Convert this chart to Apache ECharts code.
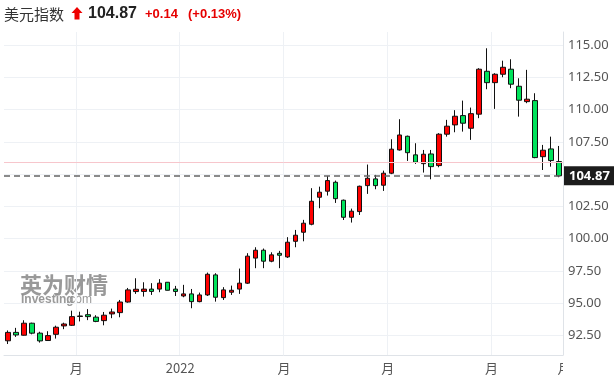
<!DOCTYPE html>
<html>
<head>
<meta charset="utf-8">
<script src="https://cdn.jsdelivr.net/npm/echarts@6/dist/echarts.min.js"></script>
<style>
html,body{margin:0;padding:0;background:#fff;}
#c{width:614px;height:382px;}
</style>
</head>
<body>
<div id="c"></div>
<script>
// ---- data (weekly candles) ----
const opens  = [92.10,92.75,92.53,93.46,92.69,92.12,92.60,93.25,93.30,93.98,94.12,93.93,93.66,94.18,94.28,95.10,95.91,95.92,96.10,96.10,96.63,96.10,95.57,95.73,95.13,95.65,97.20,95.44,95.86,96.10,96.56,98.50,99.11,98.26,98.87,98.59,99.80,100.50,101.12,103.21,103.68,104.37,102.98,101.66,102.10,104.11,104.63,104.14,105.07,106.87,107.93,106.49,105.81,106.56,105.66,108.09,108.81,109.53,108.55,109.64,112.96,112.08,112.73,113.12,111.80,110.61,110.69,106.35,106.95,105.97];
const closes = [92.75,92.55,93.46,92.69,92.09,92.50,93.15,93.40,93.97,94.02,93.97,93.60,94.08,94.33,95.10,96.04,96.09,96.10,95.92,96.56,96.01,95.92,95.73,95.13,95.65,97.25,95.47,96.04,96.01,96.56,98.65,99.11,98.26,98.75,98.72,99.73,100.27,101.20,102.90,103.60,104.50,103.10,101.66,102.13,104.06,104.68,104.11,105.07,106.93,108.03,106.66,105.92,106.54,105.58,108.09,108.71,109.48,108.94,109.68,113.12,112.08,112.73,113.27,111.96,110.72,110.80,106.28,106.85,106.05,104.87];
const lows   = [91.85,92.40,92.50,92.60,91.96,92.10,92.27,93.00,93.25,93.60,93.70,93.54,93.30,93.85,93.92,95.05,95.73,95.52,95.65,95.86,96.00,95.57,95.47,94.62,95.08,95.57,95.13,95.26,95.65,95.73,96.50,97.72,97.72,98.18,97.72,98.51,99.34,99.80,101.04,102.36,103.34,102.77,101.45,101.25,101.84,103.47,103.83,103.70,105.00,106.82,106.02,105.79,105.12,104.60,105.53,107.90,108.24,108.29,107.65,109.33,111.57,110.05,112.50,111.65,109.45,110.49,106.23,105.32,105.58,104.76];
const highs  = [92.90,93.10,93.69,93.50,92.80,92.84,93.27,93.50,94.43,94.35,94.55,94.08,94.33,94.59,95.26,96.19,96.94,96.63,96.56,96.87,96.65,96.35,96.43,96.11,95.83,97.38,97.33,96.25,96.37,97.69,98.88,99.34,99.24,98.95,99.06,100.12,100.68,101.46,103.91,104.03,104.86,104.50,103.03,102.33,104.11,105.74,104.94,105.27,107.70,109.25,107.98,107.39,106.87,106.87,108.17,109.20,109.95,110.69,110.15,113.20,114.74,112.81,113.78,113.89,112.42,113.07,111.26,107.26,107.90,107.18];
const categories = Array.from({length: opens.length}, (_, i) => 'W' + (i + 1));
const xTickLabels = {9: '月', 22: '2022', 35: '月', 48: '月', 61: '月', 69: '月'};
const yTickValues = [92.5, 95, 97.5, 100, 102.5, 105, 107.5, 110, 112.5, 115];
const lastClose = 104.87;
const refLevel = 105.93;
const header = {name: '美元指数', price: '104.87', change: '+0.14', pct: '(+0.13%)'};

const candleData = opens.map((o, i) => [o, closes[i], lows[i], highs[i]]);
const gridLines = [9, 22, 35, 48, 61];
const lastIdx = opens.length - 1;

const chart = echarts.init(document.getElementById('c'), null, {renderer: 'canvas'});
chart.setOption({
  animation: false,
  backgroundColor: '#fff',
  grid: {left: 4, right: 51, top: 32, bottom: 27},
  xAxis: {
    type: 'category',
    data: categories,
    boundaryGap: true,
    axisLine: {show: true, lineStyle: {color: '#dfe3e8'}},
    axisTick: {show: false},
    splitLine: {show: true, interval: (i) => gridLines.includes(i), lineStyle: {color: '#eef1f5', width: 1}},
    axisLabel: {
      interval: (i) => xTickLabels[i] !== undefined,
      formatter: (v, i) => i === lastIdx ? '{e|' + xTickLabels[i] + '}' : (xTickLabels[i] || ''),
      color: '#555', fontSize: 13, fontFamily: 'Noto Sans CJK SC', margin: 7,
      padding: [0, 7, 0, 0],
      rich: {e: {color: '#555', fontSize: 13, fontFamily: 'Noto Sans CJK SC', padding: [0, 0, 0, 17]}}
    }
  },
  yAxis: {
    type: 'value',
    position: 'right',
    min: 91, max: 116,
    scale: true,
    axisLine: {show: true, lineStyle: {color: '#dfe3e8'}},
    axisTick: {show: false, customValues: yTickValues},
    splitLine: {show: true, lineStyle: {color: '#eef1f5', width: 1}},
    axisLabel: {
      customValues: yTickValues,
      formatter: (v) => v.toFixed(2),
      color: '#555', fontSize: 13, fontFamily: 'Noto Sans', margin: 5
    }
  },
  series: [{
    type: 'candlestick',
    data: candleData,
    barWidth: 5,
    itemStyle: {color: '#ff0000', color0: '#00e35b', borderColor: '#111', borderColor0: '#111', borderWidth: 1},
    markLine: {
      silent: true,
      symbol: ['none', 'none'],
      animation: false,
      data: [
        {yAxis: lastClose, lineStyle: {color: '#666', type: [6, 4], width: 1.5},
         label: {show: true, position: 'end', distance: 1, formatter: lastClose.toFixed(2), color: '#fff', backgroundColor: '#1c1c1c', padding: [3, 5, 3, 5], fontSize: 13, fontFamily: 'Noto Sans', fontWeight: 'bold'}},
        {yAxis: refLevel, lineStyle: {color: '#f7c6cc', type: 'solid', width: 1}, label: {show: false}}
      ]
    }
  }],
  graphic: [
    {type: 'rect', shape: {x: 563, y: 357, width: 51, height: 25}, style: {fill: '#fff'}, z: 100},
    {type: 'text', x: 4, y: 14, style: {text: header.name, font: '15px "Noto Sans CJK SC"', fill: '#333', verticalAlign: 'middle'}},
    {type: 'polygon', shape: {points: [[77, 7], [82.5, 13], [79.5, 13], [79.5, 19.5], [74.5, 19.5], [74.5, 13], [71.5, 13]]}, style: {fill: '#ee0000'}},
    {type: 'text', x: 88, y: 14, style: {text: header.price, font: 'bold 16px "Liberation Sans"', fill: '#222', verticalAlign: 'middle'}},
    {type: 'text', x: 145, y: 14, style: {text: header.change, font: 'bold 13px "Liberation Sans"', fill: '#e60000', verticalAlign: 'middle'}},
    {type: 'text', x: 188, y: 14, style: {text: header.pct, font: 'bold 13px "Liberation Sans"', fill: '#e60000', verticalAlign: 'middle'}},
    {type: 'text', x: 20, y: 285, style: {text: '英为财情', font: 'bold 22px "Noto Sans CJK SC"', fill: '#8e8e8e', verticalAlign: 'middle', opacity: 0.9}},
    {type: 'text', x: 21, y: 300, style: {text: 'Investing', font: 'bold 12px "Liberation Sans"', fill: '#8e8e8e', verticalAlign: 'middle', opacity: 0.9}},
    {type: 'text', x: 66, y: 300, style: {text: '.com', font: '12px "Liberation Sans"', fill: '#8e8e8e', verticalAlign: 'middle', opacity: 0.9}}
  ]
});
</script>
</body>
</html>
